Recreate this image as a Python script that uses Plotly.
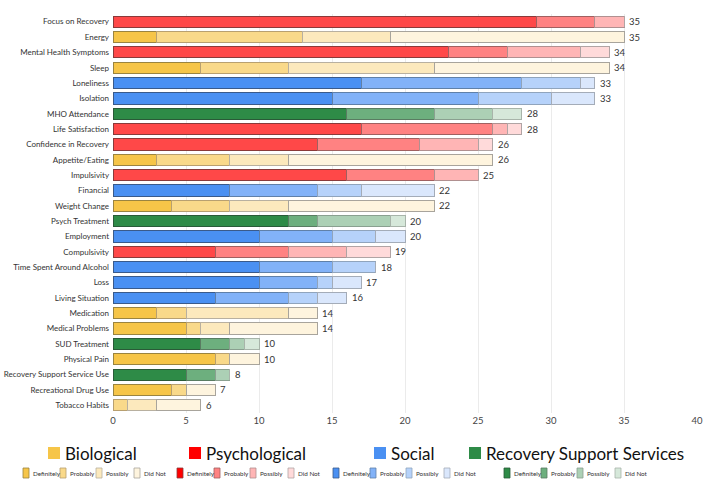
import plotly.graph_objects as go

categories = ["Focus on Recovery", "Energy", "Mental Health Symptoms", "Sleep", "Loneliness",
              "Isolation", "MHO Attendance", "Life Satisfaction", "Confidence in Recovery",
              "Appetite/Eating", "Impulsivity", "Financial", "Weight Change", "Psych Treatment",
              "Employment", "Compulsivity", "Time Spent Around Alcohol", "Loss", "Living Situation",
              "Medication", "Medical Problems", "SUD Treatment", "Physical Pain",
              "Recovery Support Service Use", "Recreational Drug Use", "Tobacco Habits"]
groups = ["Psych", "Bio", "Psych", "Bio", "Social", "Social", "RSS", "Psych", "Psych",
          "Bio", "Psych", "Social", "Bio", "RSS", "Social", "Psych", "Social", "Social", "Social",
          "Bio", "Bio", "RSS", "Bio", "RSS", "Bio", "Bio"]
definitely = [29, 3, 23, 6, 17, 15, 16, 17, 14, 3, 16, 8, 4, 12, 10, 7, 10, 10, 7, 3, 5, 6, 7, 5, 4, 0]
probably = [4, 10, 4, 6, 11, 10, 6, 9, 7, 5, 6, 6, 4, 2, 5, 5, 5, 4, 5, 2, 1, 2, 1, 2, 1, 1]
possibly = [2, 6, 5, 10, 4, 5, 4, 1, 4, 4, 3, 3, 4, 5, 3, 4, 3, 1, 2, 7, 2, 1, 0, 1, 0, 2]
did_not = [0, 16, 2, 12, 1, 3, 2, 1, 1, 14, 0, 5, 10, 1, 2, 3, 0, 2, 2, 2, 6, 1, 2, 0, 2, 3]
levels = ["Definitely", "Probably", "Possibly", "Did Not"]
group_names = {"Bio": "Biological", "Psych": "Psychological", "Social": "Social",
               "RSS": "Recovery Support Services"}

palette = {
    "Bio": ["#F6C548", "#F9D98A", "#FCE9BD", "#FEF4DE"],
    "Psych": ["#FF4848", "#FF8282", "#FFB5B5", "#FFDADA"],
    "Social": ["#4A90F2", "#82B2F8", "#B6D2FA", "#DAE7FC"],
    "RSS": ["#2E8B47", "#6DAF7E", "#ACD0B5", "#D6E8DA"],
}
edge = {
    "Bio": ["#9A8440", "#B8A070", "#B8B0A0", "#A8A49C"],
    "Psych": ["#8A3A3A", "#A06060", "#B09090", "#B0A4A4"],
    "Social": ["#3A5A8A", "#6080A8", "#90A4BC", "#A4ACB8"],
    "RSS": ["#2A5A38", "#5A7C62", "#8AA090", "#A8B4AA"],
}
legend_main = {"Bio": "#F6C548", "Psych": "#FF0000", "Social": "#4A90F2", "RSS": "#2E8B47"}

series = [definitely, probably, possibly, did_not]
totals = [a + b + c + d for a, b, c, d in zip(*series)]

fig = go.Figure()
for i, (lvl, vals) in enumerate(zip(levels, series)):
    fig.add_trace(go.Bar(
        y=categories, x=vals, orientation="h", name=lvl,
        marker=dict(color=[palette[g][i] for g in groups],
                    line=dict(color=[edge[g][i] for g in groups], width=1)),
        showlegend=False, hoverinfo="x+y"))

annotations = []
for cat, tot in zip(categories, totals):
    annotations.append(dict(x=tot, y=cat, xref="x", yref="y", text=str(tot),
                            xanchor="left", yanchor="middle", xshift=3, showarrow=False,
                            font=dict(size=9.5, color="#333333")))

# pixel helpers for the legend drawn below the plot area
X0, X1, YT, YB = 113, 697, 14, 413
def px(x):
    return (x - X0) / (X1 - X0)
def py(y):
    return (YB - y) / (YB - YT)

shapes = []
main_pos = {"Bio": 48, "Psych": 189, "Social": 374, "RSS": 469}
sub_pos = {"Bio": 23, "Psych": 177, "Social": 333, "RSS": 504}
offsets = [0, 37, 73, 111]
for g in ["Bio", "Psych", "Social", "RSS"]:
    sx = main_pos[g]
    shapes.append(dict(type="rect", xref="paper", yref="paper",
                       x0=px(sx), x1=px(sx + 12), y0=py(459), y1=py(447),
                       fillcolor=legend_main[g], line=dict(width=0)))
    annotations.append(dict(xref="paper", yref="paper", x=px(sx + 15), y=py(453),
                            xanchor="left", yanchor="middle", showarrow=False,
                            text=group_names[g], font=dict(size=17, color="#111111")))
    for i, lvl in enumerate(levels):
        bx = sub_pos[g] + offsets[i]
        shapes.append(dict(type="rect", xref="paper", yref="paper",
                           x0=px(bx), x1=px(bx + 6), y0=py(478), y1=py(468),
                           fillcolor=(legend_main[g] if i == 0 else palette[g][i]),
                           line=dict(color=edge[g][i], width=0.8)))
        annotations.append(dict(xref="paper", yref="paper", x=px(bx + 8), y=py(473),
                                xanchor="left", yanchor="middle", showarrow=False,
                                text=lvl, font=dict(size=6.3, color="#333333")))

fig.update_layout(
    width=708, height=484, barmode="stack", bargap=0.27,
    margin=dict(l=113, r=11, t=14, b=71, autoexpand=False),
    plot_bgcolor="white", paper_bgcolor="white",
    font=dict(family="Lato, Roboto, sans-serif", color="#333333"),
    shapes=shapes, annotations=annotations,
    xaxis=dict(range=[0, 40], dtick=5, showgrid=True, gridcolor="#ebebeb", gridwidth=1,
               zeroline=False, showline=False, tickfont=dict(size=9.5, color="#444444"),
               ticks="", automargin=False),
    yaxis=dict(autorange="reversed", showgrid=False, zeroline=False, showline=False,
               tickfont=dict(size=8, color="#333333"), ticks="", ticklabelstandoff=3,
               automargin=False),
)

fig.write_html("out.html")
